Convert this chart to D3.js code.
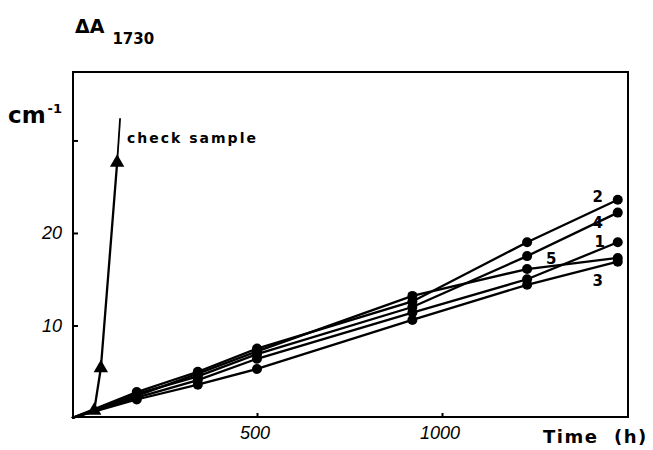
<!DOCTYPE html>
<html><head><meta charset="utf-8">
<script src="https://cdn.jsdelivr.net/npm/d3@7"></script>
<style>body{margin:0;background:#fff}svg{display:block}</style>
</head><body>
<script>
// ---- data ----
const times = [0, 175, 340, 500, 920, 1230, 1475];
const seriesNames = ["1", "2", "3", "4", "5"];
const s1 = [0, 2.2, 4.1, 6.4, 11.4, 15.0, 19.0];
const s2 = [0, 2.8, 5.0, 7.5, 12.6, 19.0, 23.6];
const s3 = [0, 2.0, 3.6, 5.3, 10.6, 14.4, 16.9];
const s4 = [0, 2.6, 4.5, 6.9, 12.0, 17.5, 22.2];
const s5 = [0, 2.4, 4.8, 7.2, 13.2, 16.1, 17.3];
const checkTimes = [0, 60, 78, 122];
const checkValues = [0, 0.8, 5.4, 27.6];
const checkLeaderTime = [122, 130];
const checkLeaderValue = [27.6, 32.4];
const xTicks = [500, 1000];
const yTicks = [10, 20, 30];
const yTickLabels = ["10", "20", ""];

const W = 653, H = 450;
const svg = d3.select("body").append("svg").attr("width", W).attr("height", H);
const x = d3.scaleLinear().domain([0, 1500]).range([72, 627]);
const y = d3.scaleLinear().domain([0, 37.4]).range([418, 72]);

// frame
svg.append("rect").attr("x", 73).attr("y", 72).attr("width", 555).attr("height", 345)
  .attr("fill", "none").attr("stroke", "#000").attr("stroke-width", 2);

// axes (ticks inside)
const yAxis = d3.axisRight(y).tickValues(yTicks).tickSize(5).tickFormat((d, i) => yTickLabels[i]);
const gy = svg.append("g").attr("transform", "translate(73,0)").call(yAxis);
gy.select(".domain").remove();
gy.selectAll("line").attr("stroke-width", 2);
gy.selectAll("text").remove();
yTicks.forEach((t, i) => {
  if (!yTickLabels[i]) return;
  svg.append("text").attr("x", 62).attr("y", y(t)).attr("dy", "0.35em")
    .attr("text-anchor", "end").attr("font-family", "Liberation Sans, Arial, sans-serif")
    .attr("font-style", "italic").attr("font-size", 18).text(yTickLabels[i]);
});
const xAxis = d3.axisTop(x).tickValues(xTicks).tickSize(4).tickFormat(d3.format("d"));
const gx = svg.append("g").attr("transform", "translate(0,417)").call(xAxis);
gx.select(".domain").remove();
gx.selectAll("line").attr("stroke-width", 2);
gx.selectAll("text").remove();
xTicks.forEach(t => {
  svg.append("text").attr("x", x(t) - 2).attr("y", 439).attr("text-anchor", "middle")
    .attr("font-family", "Liberation Sans, Arial, sans-serif").attr("font-style", "italic")
    .attr("font-size", 18).text(t);
});

// series lines
const allSeries = [s1, s2, s3, s4, s5];
const line = d3.line().x(d => x(d[0])).y(d => y(d[1]));
allSeries.forEach((vals, k) => {
  const pts = times.map((t, i) => [t, vals[i]]);
  svg.append("path").attr("d", line(pts)).attr("fill", "none")
    .attr("stroke", "#000").attr("stroke-width", 2.3);
  svg.selectAll(null).data(pts.slice(1)).enter().append("circle")
    .attr("cx", d => x(d[0])).attr("cy", d => y(d[1])).attr("r", 5).attr("fill", "#000");
});

// series labels (offsets are styling)
const labelPos = {"1": [-18, -1, 6], "2": [-20, -4, 6], "3": [-20, 18, 6], "4": [-20, 9, 6], "5": [null, null, 5]};
seriesNames.forEach((n, k) => {
  const vals = allSeries[k];
  let lx, ly;
  if (n === "5") {
    lx = x(1290) + 2; ly = y(vals[5]) - 5;
  } else {
    lx = x(times[6]) + labelPos[n][0]; ly = y(vals[6]) + labelPos[n][1] + labelPos[n][2];
  }
  svg.append("text").attr("x", lx).attr("y", ly).attr("text-anchor", "middle")
    .attr("font-family", "DejaVu Sans, sans-serif").attr("font-weight", "bold")
    .attr("font-size", 15).text(n);
});

// check sample
const cpts = checkTimes.map((t, i) => [t, checkValues[i]]);
svg.append("path").attr("d", line(cpts)).attr("fill", "none").attr("stroke", "#000").attr("stroke-width", 2.3);
svg.append("path").attr("d", line(checkLeaderTime.map((t, i) => [t, checkLeaderValue[i]])))
  .attr("fill", "none").attr("stroke", "#000").attr("stroke-width", 1.8);
const tri = d3.symbol().type(d3.symbolTriangle).size(90);
svg.selectAll(null).data(cpts.slice(1)).enter().append("path")
  .attr("d", tri).attr("transform", d => `translate(${x(d[0])},${y(d[1])})`).attr("fill", "#000");
svg.append("text").attr("x", 127).attr("y", 143)
  .attr("font-family", "DejaVu Sans, sans-serif").attr("font-size", 14).attr("letter-spacing", 2)
  .attr("font-weight", 600).text("check sample");

// axis titles
const t1 = svg.append("text").attr("x", 75).attr("y", 33)
  .attr("font-family", "DejaVu Sans, sans-serif").attr("font-weight", "bold").attr("font-size", 19);
t1.append("tspan").text("ΔA");
t1.append("tspan").attr("dx", 8).attr("dy", 11).attr("font-size", 15).text("1730");
const t2 = svg.append("text").attr("x", 8).attr("y", 123)
  .attr("font-family", "DejaVu Sans, sans-serif").attr("font-weight", "bold").attr("font-size", 23);
t2.append("tspan").text("cm");
t2.append("tspan").attr("dx", 2).attr("dy", -10).attr("font-size", 13).text("-1");
svg.append("text").attr("x", 543).attr("y", 443)
  .attr("font-family", "DejaVu Sans, sans-serif").attr("font-weight", "bold").attr("font-size", 18)
  .attr("letter-spacing", 1.5).attr("xml:space", "preserve").text("Time  (h)");
</script>
</body></html>
